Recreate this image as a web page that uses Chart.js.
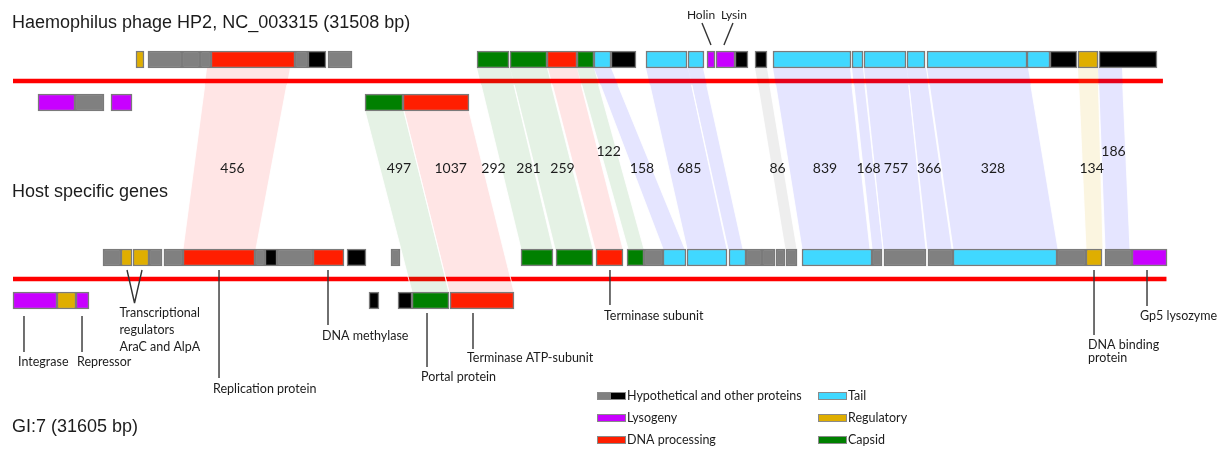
<!DOCTYPE html>
<html>
<head>
<meta charset="utf-8">
<script src="https://cdn.jsdelivr.net/npm/chart.js@4.4.1/dist/chart.umd.min.js"></script>
<style>
  html, body { margin: 0; padding: 0; background: #ffffff; }
  #wrap { width: 1225px; height: 450px; position: relative; }
</style>
</head>
<body>
<div id="wrap"><canvas id="map"></canvas></div>
<script>
// ---- Genome lengths (bp) ----
const hp2Length = 31508;
const gi7Length = 31605;

// ---- Genes: [start bp, end bp, functional class] ----
// Haemophilus phage HP2, forward row
const hp2Upper = [
  [3370, 3589, 'reg'], [3699, 4631, 'hyp'], [4631, 5124, 'hyp'], [5124, 5425, 'hyp'],
  [5425, 7727, 'dna'], [7727, 8083, 'hyp'], [8083, 8576, 'oth'], [8631, 9289, 'hyp'],
  [12714, 13590, 'cap'], [13618, 14632, 'cap'], [14632, 15454, 'dna'], [15454, 15919, 'cap'],
  [15919, 16385, 'tail'], [16385, 17070, 'oth'], [17344, 18468, 'tail'], [18495, 18933, 'tail'],
  [19016, 19235, 'lys'], [19262, 19783, 'lys'], [19783, 20139, 'oth'], [20331, 20660, 'oth'],
  [20824, 22961, 'tail'], [22989, 23290, 'tail'], [23317, 24468, 'tail'], [24496, 24989, 'tail'],
  [25044, 27784, 'tail'], [27784, 28414, 'tail'], [28414, 29154, 'oth'], [29181, 29729, 'reg'],
  [29756, 31346, 'oth']
];
// Haemophilus phage HP2, reverse row
const hp2Lower = [
  [685, 1699, 'lys'], [1699, 2493, 'hyp'], [2685, 3261, 'lys'],
  [9645, 10686, 'cap'], [10686, 12494, 'dna']
];
// GI:7, forward row
const gi7Upper = [
  [2466, 2959, 'hyp'], [2959, 3261, 'reg'], [3288, 3726, 'reg'], [3726, 4083, 'hyp'],
  [4137, 4658, 'hyp'], [4658, 6631, 'dna'], [6631, 6905, 'hyp'], [6905, 7234, 'oth'],
  [7234, 8220, 'hyp'], [8220, 9069, 'dna'], [9152, 9672, 'oth'], [10357, 10604, 'hyp'],
  [13919, 14796, 'cap'], [14878, 15892, 'cap'], [15974, 16714, 'dna'], [16824, 17289, 'cap'],
  [17289, 17810, 'hyp'], [17810, 18440, 'tail'], [18468, 19564, 'tail'], [19618, 20084, 'tail'],
  [20084, 20523, 'hyp'], [20523, 20879, 'hyp'], [20906, 21153, 'hyp'], [21180, 21482, 'hyp'],
  [21619, 23537, 'tail'], [23537, 23811, 'hyp'], [23865, 25016, 'hyp'], [25071, 25756, 'hyp'],
  [25756, 28606, 'tail'], [28606, 29400, 'hyp'], [29400, 29839, 'reg'], [29921, 30661, 'hyp'],
  [30661, 31620, 'lys']
];
// GI:7, reverse row
const gi7Lower = [
  [0, 1206, 'lys'], [1206, 1726, 'reg'], [1726, 2082, 'lys'],
  [9754, 10028, 'oth'], [10549, 10933, 'oth'], [10933, 11946, 'cap'], [11974, 13727, 'dna']
];

// ---- Homologous regions between the two genomes ----
const linkScore = [456, 497, 1037, 292, 281, 259, 122, 158, 685, null, 86, 839, 168, 757, 366, 328, 134, 186];
const linkClass = ['dna', 'cap', 'dna', 'cap', 'cap', 'dna', 'cap', 'tail', 'tail', 'tail',
                   'oth', 'tail', 'tail', 'tail', 'tail', 'tail', 'reg', 'tail'];
const linkRow   = ['upper', 'lower', 'lower', 'upper', 'upper', 'upper', 'upper', 'upper', 'upper', 'upper',
                   'upper', 'upper', 'upper', 'upper', 'upper', 'upper', 'upper', 'upper'];
const linkHp2 = [
  [5316, 7590], [9645, 10713], [10713, 12494], [12714, 13618], [13618, 14632], [14659, 15454],
  [15454, 15919], [15919, 16385], [17344, 18495], [18495, 18906], [20331, 20660], [20824, 22934],
  [22989, 23290], [23317, 24496], [24496, 25016], [25044, 27811], [29181, 29729], [29729, 30387]
];
const linkGi7 = [
  [4658, 6658], [10933, 11946], [11946, 13727], [13919, 14796], [14851, 15892], [15947, 16714],
  [16851, 17289], [17810, 18413], [18468, 19564], [19591, 20002], [21153, 21482], [21619, 23482],
  [23537, 23838], [23838, 25016], [25044, 25729], [25756, 28633], [29400, 29866], [29921, 30606]
];

// ---- Gene name callouts ----
const calloutText = [
  ['Integrase'], ['Repressor'], ['Transcriptional', 'regulators', 'AraC and AlpA'],
  ['Replication protein'], ['DNA methylase'], ['Portal protein'], ['Terminase ATP-subunit'],
  ['Terminase subunit'], ['DNA binding', 'protein'], ['Gp5 lysozyme']
];
const calloutAt = [301, 1891, [3124, 3535], 5645, 8631, 11344, 12604, 16357, 29620, 31072];
const hp2CalloutText = ['Holin', 'Lysin'];
const hp2CalloutAt = [19125, 19480];

// ---- Legend entries ----
const legendLabels = ['Hypothetical and other proteins', 'Lysogeny', 'DNA processing', 'Tail', 'Regulatory', 'Capsid'];
const legendClasses = [['hyp', 'oth'], ['lys'], ['dna'], ['tail'], ['reg'], ['cap']];

// ---- Styling ----
const CLASS_COLOR = {
  hyp: '#808080', oth: '#000000', lys: '#c800ff', dna: '#ff1e00',
  tail: '#40d8ff', reg: '#dfae00', cap: '#008000'
};
const LINK_TINT = {
  dna: 'rgba(255,0,0,0.10)', cap: 'rgba(0,128,0,0.10)', tail: 'rgba(0,0,255,0.10)',
  oth: 'rgba(0,0,0,0.065)', reg: 'rgba(225,170,0,0.12)'
};
const TRACK = { hp2Upper: 59.5, hp2Lower: 102.5, gi7Upper: 257.5, gi7Lower: 300.5 };
const HALF = 8.5;
const BACKBONE_Y = { hp2: 81, gi7: 279 };
const BP_PER_PX = 27.4, ORIGIN_PX = 13, WIDTH = 1225;
const TEXT = '#1c1c1c';
const SANS = '"Liberation Sans", Arial, sans-serif';
const LABEL_FONT = 'Lato, "Open Sans", sans-serif';

const calloutLayout = [
  { y0: 316, y1: 352, ty: [362], dx: -6 },
  { y0: 316, y1: 352, ty: [362], dx: -5 },
  { y0: 270, y1: 303, ty: [313, 330, 347], dx: -15 },
  { y0: 270, y1: 378, ty: [389], dx: -6 },
  { y0: 270, y1: 325, ty: [336], dx: -6 },
  { y0: 313, y1: 367, ty: [377], dx: -6 },
  { y0: 313, y1: 349, ty: [358], dx: -6 },
  { y0: 270, y1: 305, ty: [316], dx: -6 },
  { y0: 270, y1: 335, ty: [345, 358], dx: -6 },
  { y0: 270, y1: 306, ty: [316], dx: -7 }
];

function geneDataset(genes, trackY) {
  return {
    type: 'bar',
    indexAxis: 'y',
    data: genes.map(g => ({ x: [g[0], g[1]], y: trackY })),
    backgroundColor: genes.map(g => CLASS_COLOR[g[2]]),
    borderColor: '#7a7a7a',
    borderWidth: 1.5,
    borderSkipped: false,
    barThickness: 17,
    grouped: false,
    order: 1
  };
}

function backboneDataset(length, y) {
  return {
    type: 'line',
    data: [{ x: 0, y: y }, { x: length, y: y }],
    borderColor: '#ff0000',
    borderWidth: 4.5,
    pointRadius: 0,
    fill: false,
    order: 2
  };
}

// Draws homology ribbons (under the genes), scores, callouts, titles and legend
const genomeMapPlugin = {
  id: 'genomeMap',
  beforeDatasetsDraw(chart) { chart.$ribbonsDone = false; },
  beforeDatasetDraw(chart, args) {
    if (chart.$ribbonsDone || chart.data.datasets[args.index].type !== 'bar') return;
    chart.$ribbonsDone = true;
    const { ctx } = chart;
    const xs = chart.scales.x, ys = chart.scales.y;
    ctx.save();
    linkScore.forEach((_, i) => {
      const top = linkRow[i] === 'upper' ? TRACK.hp2Upper : TRACK.hp2Lower;
      const bot = linkRow[i] === 'upper' ? TRACK.gi7Upper : TRACK.gi7Lower;
      const yt = ys.getPixelForValue(top + HALF), yb = ys.getPixelForValue(bot - HALF);
      ctx.beginPath();
      ctx.moveTo(xs.getPixelForValue(linkHp2[i][0]), yt);
      ctx.lineTo(xs.getPixelForValue(linkHp2[i][1]), yt);
      ctx.lineTo(xs.getPixelForValue(linkGi7[i][1]), yb);
      ctx.lineTo(xs.getPixelForValue(linkGi7[i][0]), yb);
      ctx.closePath();
      ctx.fillStyle = LINK_TINT[linkClass[i]];
      ctx.fill();
    });
    // thin seams along ribbon sides, below the phage backbone
    ctx.beginPath();
    ctx.rect(0, ys.getPixelForValue(BACKBONE_Y.hp2 + 4), chart.width, chart.height);
    ctx.clip();
    ctx.strokeStyle = 'rgba(255,255,255,0.85)';
    ctx.lineWidth = 1;
    linkScore.forEach((_, i) => {
      const top = linkRow[i] === 'upper' ? TRACK.hp2Upper : TRACK.hp2Lower;
      const bot = linkRow[i] === 'upper' ? TRACK.gi7Upper : TRACK.gi7Lower;
      const yt = ys.getPixelForValue(top + HALF), yb = ys.getPixelForValue(bot - HALF);
      for (const k of [0, 1]) {
        ctx.beginPath();
        ctx.moveTo(xs.getPixelForValue(linkHp2[i][k]), yt);
        ctx.lineTo(xs.getPixelForValue(linkGi7[i][k]), yb);
        ctx.stroke();
      }
    });
    ctx.restore();
  },
  afterDatasetsDraw(chart, args, opts) {
    const { ctx } = chart;
    const xs = chart.scales.x, ys = chart.scales.y;
    ctx.save();
    ctx.fillStyle = TEXT;

    // identity scores on the ribbons
    ctx.font = '14px ' + LABEL_FONT;
    ctx.textAlign = 'center';
    ctx.textBaseline = 'middle';
    linkScore.forEach((score, i) => {
      if (score === null) return;
      const raised = opts.raisedScores.includes(i);
      const ly = raised ? 151 : 168;
      const top = linkRow[i] === 'upper' ? TRACK.hp2Upper : TRACK.hp2Lower;
      const bot = linkRow[i] === 'upper' ? TRACK.gi7Upper : TRACK.gi7Lower;
      const t = opts.scoresOverTop.includes(i) ? 0 : (ly - (top + HALF)) / ((bot - HALF) - (top + HALF));
      const l = linkHp2[i][0] + (linkGi7[i][0] - linkHp2[i][0]) * t;
      const r = linkHp2[i][1] + (linkGi7[i][1] - linkHp2[i][1]) * t;
      ctx.fillText(String(score), xs.getPixelForValue((l + r) / 2), ys.getPixelForValue(ly));
    });

    // callouts beneath GI:7
    ctx.strokeStyle = '#333333';
    ctx.lineWidth = 1.4;
    ctx.font = '12.5px ' + LABEL_FONT;
    ctx.textAlign = 'left';
    calloutText.forEach((lines, i) => {
      const L = calloutLayout[i];
      const at = calloutAt[i];
      let ax;
      if (Array.isArray(at)) {
        ax = xs.getPixelForValue((at[0] + at[1]) / 2);
        ctx.beginPath();
        at.forEach(a => {
          ctx.moveTo(xs.getPixelForValue(a), ys.getPixelForValue(L.y0));
          ctx.lineTo(ax, ys.getPixelForValue(L.y1));
        });
        ctx.stroke();
      } else {
        ax = xs.getPixelForValue(at);
        ctx.beginPath();
        ctx.moveTo(ax, ys.getPixelForValue(L.y0));
        ctx.lineTo(ax, ys.getPixelForValue(L.y1));
        ctx.stroke();
      }
      lines.forEach((txt, j) => ctx.fillText(txt, ax + L.dx, ys.getPixelForValue(L.ty[j])));
    });

    // Holin / Lysin callouts above HP2
    ctx.font = '12px ' + LABEL_FONT;
    ctx.textAlign = 'center';
    hp2CalloutText.forEach((txt, i) => {
      const ax = xs.getPixelForValue(hp2CalloutAt[i]);
      const side = i === 0 ? -1 : 1;
      ctx.beginPath();
      ctx.moveTo(ax + side * 9, ys.getPixelForValue(23));
      ctx.lineTo(ax, ys.getPixelForValue(45));
      ctx.stroke();
      ctx.fillText(txt, ax + side * 10, ys.getPixelForValue(15));
    });

    // genome titles
    ctx.font = '18px ' + SANS;
    ctx.textAlign = 'left';
    ctx.textBaseline = 'alphabetic';
    ctx.fillText('Haemophilus phage HP2, NC_003315 (' + hp2Length + ' bp)', 12, 28);
    ctx.fillText('Host specific genes', 12, 197);
    ctx.fillText('GI:7 (' + gi7Length + ' bp)', 12, 432);

    // legend
    ctx.font = '12.5px ' + LABEL_FONT;
    ctx.textBaseline = 'middle';
    const cols = [597, 818], rows = [396, 418, 440];
    legendLabels.forEach((lab, i) => {
      const x = cols[Math.floor(i / 3)], y = rows[i % 3];
      const cls = legendClasses[i];
      const w = 28 / cls.length;
      cls.forEach((c, k) => {
        ctx.fillStyle = CLASS_COLOR[c];
        ctx.fillRect(x + k * w, y - 3, w, 6);
      });
      ctx.strokeStyle = '#8a8a8a';
      ctx.lineWidth = 1;
      ctx.strokeRect(x + 0.5, y - 3.5, 28, 7);
      ctx.fillStyle = TEXT;
      ctx.fillText(lab, x + 30, y);
    });
    ctx.restore();
  }
};

new Chart(document.getElementById('map'), {
  data: {
    datasets: [
      geneDataset(hp2Upper, TRACK.hp2Upper),
      geneDataset(hp2Lower, TRACK.hp2Lower),
      geneDataset(gi7Upper, TRACK.gi7Upper),
      geneDataset(gi7Lower, TRACK.gi7Lower),
      backboneDataset(hp2Length, BACKBONE_Y.hp2),
      backboneDataset(gi7Length, BACKBONE_Y.gi7)
    ]
  },
  options: {
    responsive: true,
    maintainAspectRatio: false,
    animation: false,
    events: [],
    layout: { padding: 0 },
    scales: {
      x: { type: 'linear', display: false, offset: false, min: -ORIGIN_PX * BP_PER_PX, max: (WIDTH - ORIGIN_PX) * BP_PER_PX },
      y: { type: 'linear', display: false, offset: false, min: 0, max: 450, reverse: true }
    },
    plugins: {
      legend: { display: false },
      tooltip: { enabled: false },
      genomeMap: { raisedScores: [6, 17], scoresOverTop: [3, 4, 5] }
    }
  },
  plugins: [genomeMapPlugin]
});
</script>
</body>
</html>
